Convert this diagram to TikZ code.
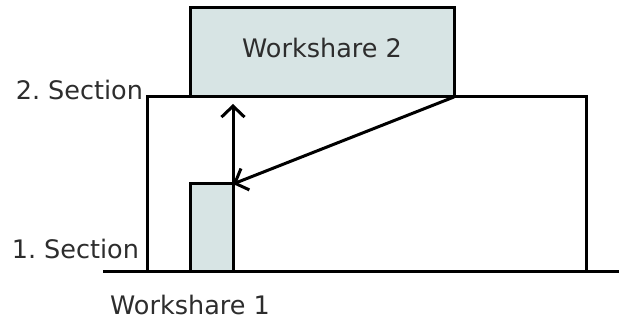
\documentclass[tikz,border=0pt]{standalone}
\usepackage{fontspec}
\setmainfont{DejaVu Sans}
\usepackage{tikz}
\usetikzlibrary{arrows.meta}

\definecolor{wsfill}{RGB}{215,228,228}
\definecolor{wstext}{RGB}{45,45,45}

\begin{document}
\frenchspacing
\begin{tikzpicture}[x=1pt,y=1pt,line width=3pt,
            >={Straight Barb[length=11pt,width=23pt,line width=3pt]},
            font=\fontsize{25.5}{30}\selectfont,text=wstext]
        \tikzset{every node/.style={inner sep=0pt,outer sep=0pt}}
        \tikzset{section/.style={draw=black,rectangle}}
        \tikzset{workshare/.style={draw=black,fill=wsfill,rectangle}}
        \tikzset{caption/.style={anchor=base east}}

        \useasboundingbox (0,0) rectangle (619,320);

        \node[section, minimum width=439pt, minimum height=175pt,
              anchor=south west] (sec) at (147,48) {};
        \node[workshare, minimum width=264pt, minimum height=89pt,
              text depth=10pt, anchor=south west] (ws2) at (190,223) {Workshare 2};
        \node[workshare, minimum width=43pt, minimum height=88pt,
              anchor=south west] (ws1) at (190,48) {};

        \coordinate (left) at (103,48);
        \coordinate (right) at (619,48);
        \draw (left) -- (right);

        \node[caption] (s2) at (143,220) {2. Section};
        \node[caption] (s1) at (139,61) {1. Section};
        \node[anchor=base] (w1) at (190,5) {Workshare 1};

        \draw[->] (ws1.north east) -- ([yshift=-7pt]ws1.north east |- sec.north);
        \draw[->] (ws2.south east) -- (ws1.north east);
    \end{tikzpicture}
\end{document}
